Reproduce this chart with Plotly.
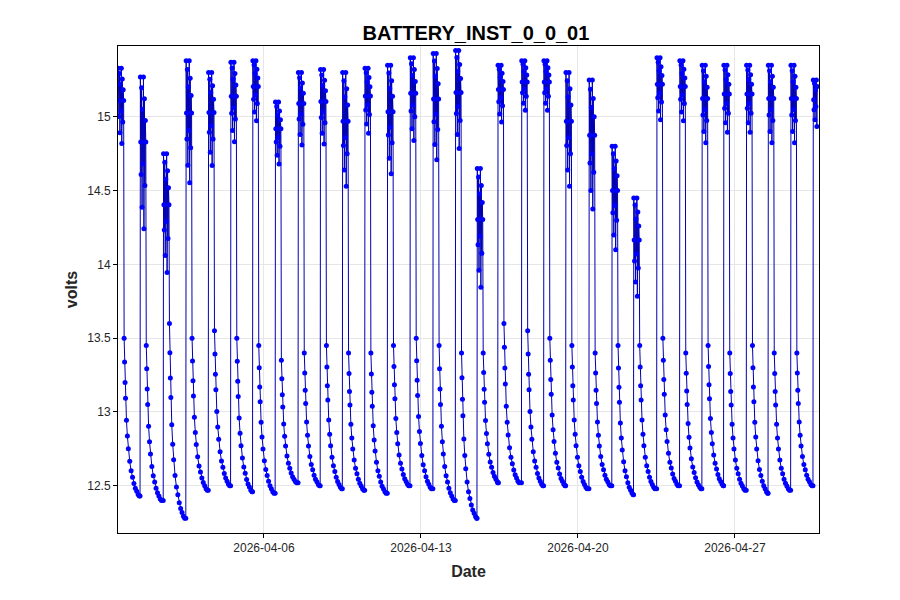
import plotly.graph_objects as go
import pandas as pd

# Daily cycle readings
day_start = pd.Timestamp("2026-03-30 12:00")
n_days = 32
rise_hour = [11.8,11.5,12.3,12.5,12.5,12.4,11.9,12.1,12.6,12.3,12.0,11.9,12.1,12.4,12.9,12.9,12.1,10.3,11.7,11.4,11.0,11.9,12.4,11.6,12.4,12.9,12.8,12.0,12.3,11.6,11.8,11.7]
peak_v    = [15.33,15.27,14.75,15.38,15.30,15.37,15.38,15.10,15.30,15.32,15.30,15.33,15.35,15.40,15.43,15.45,14.65,15.35,15.38,15.38,15.30,15.25,14.80,14.45,15.40,15.38,15.35,15.35,15.35,15.35,15.35,15.25]
osc_low   = [14.6,13.8,13.6,14.2,14.4,14.6,14.8,14.5,14.6,14.6,14.2,14.7,14.3,14.6,14.4,14.5,13.5,14.8,14.9,14.9,14.2,14.0,13.8,13.5,14.8,14.8,14.6,14.7,14.7,14.6,14.6,14.8]
eve_v     = [13.50,13.45,13.60,13.50,13.55,13.50,13.45,13.35,13.40,13.45,13.40,13.40,13.45,13.50,13.45,13.40,13.40,13.60,13.55,13.50,13.45,13.40,13.45,13.45,13.50,13.40,13.45,13.40,13.45,13.40,13.40,13.40]
min_v     = [12.48,12.43,12.40,12.28,12.47,12.50,12.46,12.45,12.52,12.50,12.48,12.47,12.45,12.50,12.48,12.40,12.28,12.52,12.52,12.50,12.50,12.48,12.50,12.44,12.48,12.50,12.48,12.50,12.47,12.45,12.47,12.50]
high_hours = [0.2,0.6,1.0,1.5,2.0,2.5,3.0,3.5,4.0,4.5,5.0,5.5,6.0]
high_frac  = [1.0,0.7,0.55,0.95,0.4,0.85,0.6,1.0,0.3,0.9,0.5,0.8,0.7]
decay_hours = [6.5,7.0,7.5,8.0,9.0,10.0,11.0,12.5,14.0,15.5,17.0,18.5,20.0,21.5,22.8]
decay_frac  = [1.0,0.85,0.72,0.62,0.48,0.38,0.30,0.22,0.16,0.12,0.08,0.05,0.03,0.01,0.0]

times, volts = [], []
end = pd.Timestamp("2026-04-30 16:30")
for d in range(n_days):
    t0 = day_start.normalize() + pd.Timedelta(days=d) + pd.Timedelta(hours=rise_hour[d])
    if d > 0:
        times.append(t0 - pd.Timedelta(minutes=10)); volts.append(min_v[d])
    for h, f in zip(high_hours, high_frac):
        times.append(t0 + pd.Timedelta(hours=h)); volts.append(osc_low[d] + f * (peak_v[d] - osc_low[d]))
    nxt = min_v[(d + 1) % n_days]
    for h, f in zip(decay_hours, decay_frac):
        times.append(t0 + pd.Timedelta(hours=h)); volts.append(nxt + f * (eve_v[d] - nxt))
keep = [i for i, t in enumerate(times) if t <= end]
times = [times[i] for i in keep]
volts = [volts[i] for i in keep]

fig = go.Figure(go.Scatter(x=times, y=volts, mode="lines+markers",
    line=dict(color="#0000b0", width=1), marker=dict(color="#0000ff", size=5)))
ax = dict(showline=True, linecolor="black", mirror=True, showgrid=True, gridcolor="#e6e6e6",
          ticks="outside", tickcolor="black", ticklen=4, zeroline=False, automargin=False,
          tickfont=dict(family="Arial", size=12, color="#262626"))
fig.update_layout(
    width=900, height=600, plot_bgcolor="white", paper_bgcolor="white", showlegend=False,
    margin=dict(l=110, r=89, t=38, b=75),
    title=dict(text="<b>BATTERY_INST_0_0_01</b>", x=0.52, y=0.958, yanchor="middle", font=dict(family="Arial", size=20, color="black")),
    xaxis=dict(ax, range=["2026-03-30 11:45", "2026-04-30 18:00"],
               tickvals=["2026-04-06", "2026-04-13", "2026-04-20", "2026-04-27"],
               ticktext=["2026-04-06", "2026-04-13", "2026-04-20", "2026-04-27"],
               title=dict(text="<b>Date</b>", standoff=11, font=dict(family="Arial", size=16, color="#262626"))),
    yaxis=dict(ax, range=[12.18, 15.48], tickvals=[12.5, 13, 13.5, 14, 14.5, 15],
               ticktext=["12.5", "13", "13.5", "14", "14.5", "15"],
               title=dict(text="<b>volts</b>", standoff=5, font=dict(family="Arial", size=16, color="#262626"))),
)
fig.write_html("out.html")
